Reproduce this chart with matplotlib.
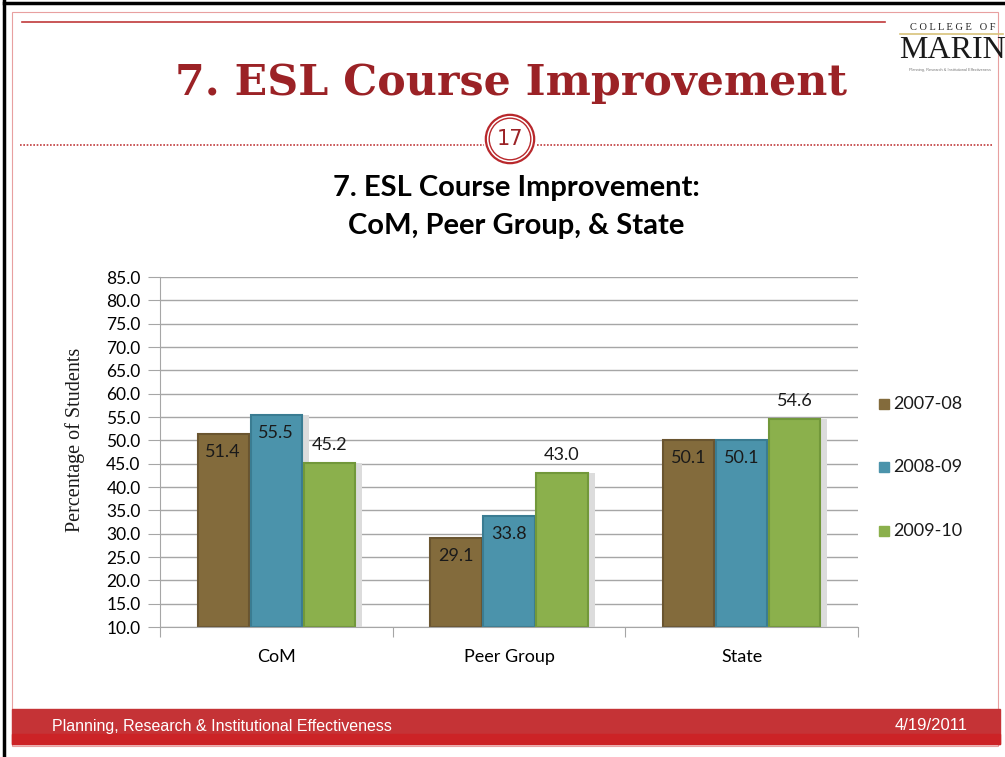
import matplotlib
matplotlib.use("Agg")
import matplotlib.pyplot as plt
from matplotlib.patches import Rectangle, Circle
from matplotlib.lines import Line2D
from matplotlib.ticker import MultipleLocator, FormatStrFormatter
import numpy as np

categories = ["CoM", "Peer Group", "State"]
series_names = ["2007-08", "2008-09", "2009-10"]
v_2007_08 = [51.4, 29.1, 50.1]
v_2008_09 = [55.5, 33.8, 50.1]
v_2009_10 = [45.2, 43.0, 54.6]
series_values = [v_2007_08, v_2008_09, v_2009_10]
colors = ["#836B3C", "#4B93AB", "#8BB04C"]
edges = ["#6A5530", "#3A7C92", "#72983A"]

W, H = 1005, 757
fig = plt.figure(figsize=(W / 100, H / 100), dpi=100)
fig.patch.set_facecolor("white")

def fx(x):
    return x / W

def fy(y):
    return 1 - y / H

# slide frame
fig.add_artist(Line2D([fx(4), fx(4)], [fy(0), fy(757)], color="black", lw=2.5))
fig.add_artist(Line2D([fx(4), fx(1005)], [fy(3), fy(3)], color="black", lw=2.5))
fig.add_artist(Rectangle((fx(12), fy(746)), fx(998) - fx(12), fy(12) - fy(746),
                         fill=False, ec="#e8a0a0", lw=0.8))
fig.add_artist(Line2D([fx(22), fx(885)], [fy(22), fy(22)], color="#c0393b", lw=1.2))

# logo
fig.text(fx(953), fy(27), "C O L L E G E   O F", ha="center", va="center",
         fontsize=7.5, family="Liberation Serif", color="#222222")
fig.add_artist(Line2D([fx(900), fx(1003)], [fy(34), fy(34)], color="#d8c27a", lw=1.2))
fig.text(fx(952), fy(50), "MARIN", ha="center", va="center",
         fontsize=23, family="Liberation Serif", color="#1a1a1a")
fig.text(fx(950), fy(70), "Planning, Research & Institutional Effectiveness", ha="center",
         va="center", fontsize=2.8, family="Liberation Sans", color="#777777")

# main title
fig.text(fx(511), fy(83), "7. ESL Course Improvement", ha="center", va="center",
         fontsize=30.8, family="DejaVu Serif", fontweight="bold", color="#9B2226")

# dotted line with circle 17
fig.add_artist(Line2D([fx(20), fx(484)], [fy(145), fy(145)], color="#c0393b", lw=1.2,
                      ls=(0, (1, 1))))
fig.add_artist(Line2D([fx(537), fx(992)], [fy(145), fy(145)], color="#c0393b", lw=1.2,
                      ls=(0, (1, 1))))
ax_c = fig.add_axes([fx(484), fy(165), fx(52), fy(113) - fy(165)])
ax_c.set_xlim(-1, 1)
ax_c.set_ylim(-1, 1)
ax_c.axis("off")
ax_c.add_patch(Circle((0, 0), 0.93, fill=False, ec="#b8282c", lw=1.6))
ax_c.add_patch(Circle((0, 0), 0.80, fill=False, ec="#b8282c", lw=1.0))
ax_c.text(0, 0, "17", ha="center", va="center", fontsize=15,
          family="Liberation Sans Narrow", color="#9B2226")

# chart title
fig.text(fx(516), fy(188), "7. ESL Course Improvement:", ha="center", va="center",
         fontsize=21, family="Lato", fontweight="bold", color="black")
fig.text(fx(516), fy(226), "CoM, Peer Group, & State", ha="center", va="center",
         fontsize=21, family="Lato", fontweight="bold", color="black")

# main chart axes
x0, x1, ytop, ybot = 160, 858, 277, 627
ax = fig.add_axes([fx(x0), fy(ybot), fx(x1) - fx(x0), fy(ytop) - fy(ybot)])
ax.set_xlim(-0.5, 2.5)
ax.set_ylim(10, 85)
ax.yaxis.set_major_locator(MultipleLocator(5))
ax.yaxis.set_major_formatter(FormatStrFormatter("%.1f"))
ax.grid(axis="y", color="#a6a6a6", lw=1.0)
ax.set_axisbelow(True)
for s in ["top", "right"]:
    ax.spines[s].set_visible(False)
ax.spines["left"].set_color("#a6a6a6")
ax.spines["bottom"].set_color("#a6a6a6")
ax.tick_params(axis="y", length=9, color="#a6a6a6", labelsize=12.5, pad=5)
for t in ax.get_yticklabels():
    t.set_family("Lato")
ax.set_xticks([-0.5, 0.5, 1.5, 2.5])
ax.set_xticklabels([])
ax.tick_params(axis="x", which="major", length=7, color="#a6a6a6")
ax.set_xticks(np.arange(len(categories)), minor=True)
ax.set_xticklabels(categories, minor=True, fontsize=13, family="Lato")
ax.tick_params(axis="x", which="minor", length=0, pad=16)

x = np.arange(len(categories))
bw = 0.22
gap = 0.008
offsets = [-(bw + gap), 0, bw + gap]
for i, (vals, c, ec) in enumerate(zip(series_values, colors, edges)):
    xs = x + offsets[i]
    # soft shadow
    ax.bar(xs + 0.03, np.array(vals) - 10, bw, bottom=10, color="#dcdcdc",
           zorder=1.5, lw=0)
    ax.bar(xs, np.array(vals) - 10, bw, bottom=10, color=c, edgecolor=ec,
           lw=1.5, zorder=2, label=series_names[i])
    for xi, v in zip(xs, vals):
        dy = -3.9 if i < 2 else 3.9
        ax.text(xi, v + dy, f"{v:.1f}", ha="center", va="center", fontsize=13,
                family="Lato", color="#1a1a1a", zorder=3)

fig.text(fx(75), fy(440), "Percentage of Students", rotation=90, ha="center",
         va="center", family="Liberation Serif", fontsize=14.5, color="#1a1a1a")

# legend
leg_y = [404, 467, 531]
for name, c, yy in zip(series_names, colors, leg_y):
    fig.add_artist(Rectangle((fx(879), fy(yy + 5)), fx(10), fy(yy - 5) - fy(yy + 5),
                             color=c))
    fig.text(fx(893), fy(yy), name, ha="left", va="center", fontsize=13,
             family="Lato", color="#1a1a1a")

# footer
fig.add_artist(Rectangle((fx(12), fy(744)), fx(1000) - fx(12), fy(709) - fy(744),
                         color="#C53336"))
fig.add_artist(Rectangle((fx(12), fy(744)), fx(1000) - fx(12), fy(734) - fy(744),
                         color="#CC2326"))
fig.text(fx(52), fy(726), "Planning, Research & Institutional Effectiveness", ha="left",
         va="center", fontsize=11.5, family="Liberation Sans", color="white")
fig.text(fx(968), fy(726), "4/19/2011", ha="right", va="center", fontsize=12,
         family="Liberation Sans", color="white")

fig.savefig("out.png", dpi=100, facecolor="white")
